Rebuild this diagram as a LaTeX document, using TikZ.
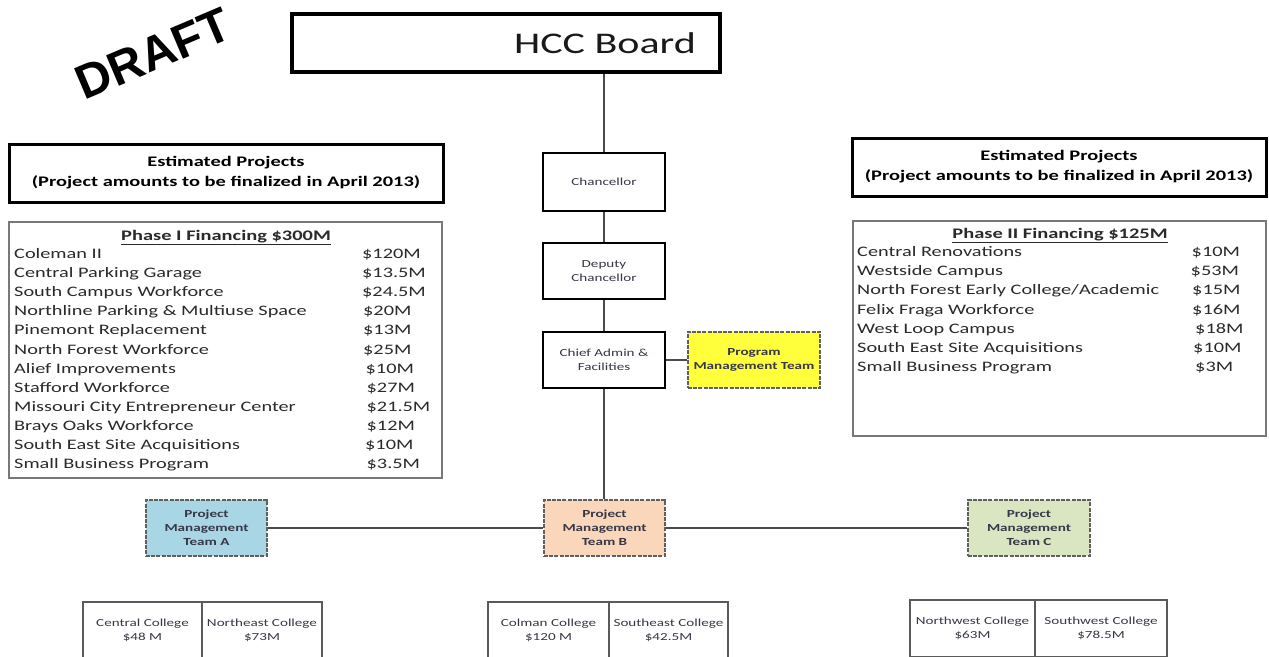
\documentclass[tikz,border=0pt]{standalone}
\usepackage{fontspec}
\setmainfont{Carlito}[FakeStretch=1.4]
\newfontfamily\draftfont{Liberation Sans}
\newcommand\smallfnt{\fontsize{10.8}{14.5}\selectfont}
\newcommand\smallbfnt{\fontsize{10.8}{14}\selectfont\bfseries}
\newcommand\listfnt{\fontsize{14.5}{19}\selectfont}
\newcommand\headfnt{\fontsize{14.6}{20}\selectfont\bfseries}
\newcommand\hccfnt{\fontsize{30}{34}\selectfont}
\definecolor{txt}{RGB}{55,55,72}
\definecolor{listtxt}{RGB}{42,42,42}
\definecolor{lineg}{RGB}{75,75,75}
\definecolor{dashg}{RGB}{95,95,95}
\definecolor{phaseg}{RGB}{120,120,120}
\definecolor{collg}{RGB}{90,90,90}
\definecolor{pmtyellow}{RGB}{255,255,60}
\definecolor{teama}{RGB}{168,214,228}
\definecolor{teamb}{RGB}{250,214,186}
\definecolor{teamc}{RGB}{218,230,194}
\begin{document}
\begin{tikzpicture}[x=1pt,y=-1pt,
  conn/.style={draw=lineg, line width=1.6pt},
  orgbox/.style={draw=black, line width=2pt, fill=white, text=txt, font=\smallfnt, align=center, inner sep=0pt},
  teambox/.style={draw=dashg, line width=1.5pt, dash pattern=on 4pt off 1.2pt, text=txt, font=\smallbfnt, align=center, inner sep=0pt},
  estbox/.style={draw=black, line width=3pt, font=\headfnt, align=center, inner sep=0pt},
  phasebox/.style={draw=phaseg, line width=1.5pt, inner sep=0pt},
  listitem/.style={anchor=base west, font=\listfnt, text=listtxt, inner sep=0pt},
  collbox/.style={draw=collg, line width=1.3pt, font=\smallfnt, text=txt, align=center, inner sep=0pt},
]
\useasboundingbox (0,0) rectangle (1269,656);
\clip (0,0) rectangle (1269,656);
\fill[white] (0,0) rectangle (1269,656);

% DRAFT
\node[font=\draftfont\bfseries\fontsize{48}{48}\selectfont, rotate=23, inner sep=0pt] (draft) at (153,54) {DRAFT};

% HCC Board
\node[draw=black, line width=3.5pt, minimum width=428pt, minimum height=58pt, inner sep=0pt] (hcc) at (506,43) {};
\node[font=\hccfnt, text=black!90, inner sep=0pt] (hcctext) at (605,43) {HCC Board};

% central chain
\node[orgbox, minimum width=122pt, minimum height=58pt] (chan) at (604,182) {Chancellor};
\node[orgbox, minimum width=122pt, minimum height=56pt] (dep) at (604,271) {Deputy\\Chancellor};
\node[orgbox, minimum width=122pt, minimum height=56pt] (chief) at (604,360) {Chief Admin \&\\Facilities};
\node[teambox, fill=pmtyellow, minimum width=132pt, minimum height=56pt] (pmt) at (754,360) {Program\\Management Team};

% teams
\node[teambox, fill=teama, minimum width=121pt, minimum height=56pt] (teamA) at (206.5,528) {Project\\Management\\Team A};
\node[teambox, fill=teamb, minimum width=121pt, minimum height=56pt] (teamB) at (604.5,528) {Project\\Management\\Team B};
\node[teambox, fill=teamc, minimum width=122pt, minimum height=56pt] (teamC) at (1029,528) {Project\\Management\\Team C};

% connectors
\draw[conn] (hcc.south -| chan.north) -- (chan.north);
\draw[conn] (chan) -- (dep);
\draw[conn] (dep) -- (chief);
\draw[conn] (chief.south) -- (chief.south |- teamB.north);
\draw[conn] (chief.east) -- (pmt.west);
\draw[conn] (teamA.east) -- (teamB.west);
\draw[conn] (teamB.east) -- (teamC.west);

% estimated project headers
\node[estbox, minimum width=434pt, minimum height=58pt] (estL) at (226,173) {Estimated Projects\\(Project amounts to be finalized in April 2013)};
\node[estbox, minimum width=414pt, minimum height=58pt] (estR) at (1059,167) {Estimated Projects\\(Project amounts to be finalized in April 2013)};

% Phase I
\node[phasebox, minimum width=433pt, minimum height=256pt] (phaseI) at (225.5,350) {};
\node[font=\headfnt, text=listtxt, anchor=base, inner sep=0pt] (p1title) at (226,240) {\underline{Phase I Financing \$300M}};
\foreach \nm/\amt/\ax [count=\i from 0] in {
  Coleman II/\$120M/362,
  Central Parking Garage/\$13.5M/362,
  South Campus Workforce/\$24.5M/362,
  Northline Parking \& Multiuse Space/\$20M/363,
  Pinemont Replacement/\$13M/363,
  North Forest Workforce/\$25M/363,
  Alief Improvements/\$10M/365.5,
  Stafford Workforce/\$27M/366.5,
  Missouri City Entrepreneur Center/\$21.5M/366.5,
  Brays Oaks Workforce/\$12M/366.5,
  South East Site Acquisitions/\$10M/365,
  Small Business Program/\$3.5M/366.5}{
  \node[listitem] (p1n\i) at (14,258.5+19.1*\i) {\nm};
  \node[listitem] (p1a\i) at (\ax,258.5+19.1*\i) {\amt};
}

% Phase II
\node[phasebox, minimum width=413pt, minimum height=215pt] (phaseII) at (1059.5,328.5) {};
\node[font=\headfnt, text=listtxt, anchor=base, inner sep=0pt] (p2title) at (1060,238) {\underline{Phase II Financing \$125M}};
\foreach \nm/\amt/\ax [count=\i from 0] in {
  Central Renovations/\$10M/1191.5,
  Westside Campus/\$53M/1190.5,
  North Forest Early College\slash Academic/\$15M/1192,
  Felix Fraga Workforce/\$16M/1192,
  West Loop Campus/\$18M/1195,
  South East Site Acquisitions/\$10M/1193,
  Small Business Program/\$3M/1195}{
  \node[listitem] (p2n\i) at (857,256.5+19.2*\i) {\nm};
  \node[listitem] (p2a\i) at (\ax,256.5+19.2*\i) {\amt};
}

% colleges
\node[collbox, minimum width=119pt, minimum height=57pt] (central) at (142.5,630.5) {Central College\\\$48 M};
\node[collbox, minimum width=120pt, minimum height=57pt] (northeast) at (262,630.5) {Northeast College\\\$73M};
\node[collbox, minimum width=121pt, minimum height=57pt] (colman) at (548.5,630.5) {Colman College\\\$120 M};
\node[collbox, minimum width=119pt, minimum height=57pt] (southeast) at (668.5,630.5) {Southeast College\\\$42.5M};
\node[collbox, minimum width=125pt, minimum height=57pt] (northwest) at (972.5,628.5) {Northwest College\\\$63M};
\node[collbox, minimum width=132pt, minimum height=57pt] (southwest) at (1101,628.5) {Southwest College\\\$78.5M};
\end{tikzpicture}
\end{document}
